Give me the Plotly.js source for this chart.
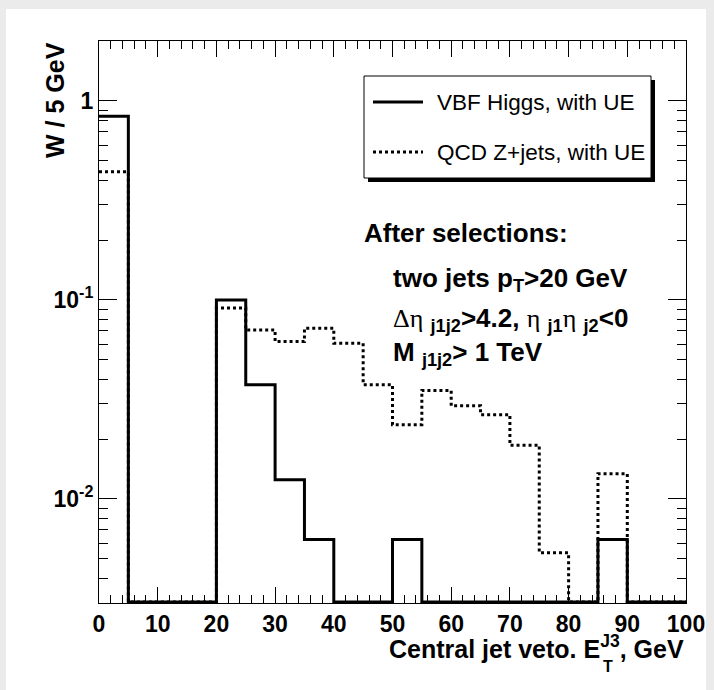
<!DOCTYPE html>
<html>
<head>
<meta charset="utf-8">
<script src="https://cdn.plot.ly/plotly-3.0.1.min.js"></script>
<style>
  html, body { margin:0; padding:0; background:#ebebeb; width:714px; height:690px; overflow:hidden; }
  #chart { position:absolute; left:6px; top:9px; width:700px; height:681px; background:#fff; }
</style>
</head>
<body>
<div id="chart"></div>
<script>
// ---- data ----
const binLowEdges = [0, 5, 10, 15, 20, 25, 30, 35, 40, 45, 50, 55, 60, 65, 70, 75, 80, 85, 90, 95];
const binUpperEnd = 100;
const higgsValues = [0.838, 0, 0, 0, 0.1, 0.0375, 0.0125, 0.00625, 0, 0, 0.00625, 0, 0, 0, 0, 0, 0, 0.00625, 0, 0];
const qcdValues   = [0.44, 0, 0, 0, 0.091, 0.0707, 0.0618, 0.0721, 0.0606, 0.0375, 0.0236, 0.0351, 0.0294, 0.0265, 0.0186, 0.00536, 0, 0.0134, 0, 0];
const seriesNames = ['VBF Higgs, with UE', 'QCD Z+jets, with UE'];
const xTickVals = [0, 10, 20, 30, 40, 50, 60, 70, 80, 90, 100];
const yTickVals = [0.01, 0.1, 1];
const yTickText = ['10<sup>-2</sup>', '10<sup>-1</sup>', '1'];
const xTitle = 'Central jet veto. E<sup>J3</sup>, GeV';
const yTitle = 'W / 5 GeV';
const greek = s => '<span style="font-family:\'Liberation Serif\';font-weight:normal">' + s + '</span>';
const selLines = [
  'After selections:',
  'two jets p<sub>T</sub>&gt;20 GeV',
  greek('\u0394\u03b7') + ' <sub>j1j2</sub>&gt;4.2, ' + greek('\u03b7') + ' <sub>j1</sub>' + greek('\u03b7') + ' <sub>j2</sub>&lt;0',
  'M <sub>j1j2</sub>&gt; 1 TeV'
];

// ---- geometry helpers ----
const yMin = 0.003, yMax = 2;
const floorVal = yMin * 1.012; // empty bins drawn along the frame bottom
const PX0 = 99, PX1 = 686, PY0 = 41, PY1 = 603;
const px = v => (v - PX0) / (PX1 - PX0);
const py = v => (PY1 - v) / (PY1 - PY0);

function stepTrace(vals, name, dash) {
  const xs = binLowEdges.concat([binUpperEnd]);
  const ys = vals.map(v => v > 0 ? v : floorVal);
  ys.push(ys[ys.length - 1]);
  return {
    type: 'scatter', mode: 'lines', name: name,
    x: xs, y: ys,
    line: { shape: 'hv', color: 'black', width: 3, dash: dash },
    hoverinfo: 'skip'
  };
}

const traces = [
  stepTrace(qcdValues, seriesNames[1], 'dot'),
  stepTrace(higgsValues, seriesNames[0], 'solid')
];

// minor log ticks
const minorVals = [];
for (let d = -3; d <= 0; d++) {
  for (let m = 2; m <= 9; m++) {
    const v = m * Math.pow(10, d);
    if (v >= yMin && v <= yMax) minorVals.push(v);
  }
}

const FONT = 'Liberation Sans, Arial, Helvetica, sans-serif';
const tickFont = { family: FONT, size: 23, color: 'black', weight: 'bold' };
const boldFont = sz => ({ family: FONT, size: sz, color: 'black', weight: 'bold' });

function note(text, x, y, xanchor, font, extra) {
  return Object.assign({ text: text, x: px(x), y: py(y), xref: 'paper', yref: 'paper',
    xanchor: xanchor, yanchor: 'middle', showarrow: false, font: font }, extra || {});
}

const annotations = [
  note(yTitle, 55, 100, 'center', boldFont(25), { textangle: -90 }),
  note(xTitle, 686, 647, 'right', boldFont(25)),
  note('T', 608, 666, 'center', boldFont(16)),
  note(seriesNames[0], 435, 102, 'left', { family: FONT, size: 22.5, color: 'black' }),
  note(seriesNames[1], 435, 152, 'left', { family: FONT, size: 22.5, color: 'black' }),
  note(selLines[0], 362, 233, 'left', boldFont(26)),
  note(selLines[1], 391, 279, 'left', boldFont(26)),
  note(selLines[2], 391, 319, 'left', boldFont(26)),
  note(selLines[3], 391, 353, 'left', boldFont(26))
];

const shapes = [
  { type: 'rect', xref: 'paper', yref: 'paper', x0: px(368), x1: px(655), y0: py(80), y1: py(182),
    fillcolor: 'black', line: { width: 0 } },
  { type: 'rect', xref: 'paper', yref: 'paper', x0: px(364), x1: px(651), y0: py(76), y1: py(178),
    fillcolor: 'white', line: { color: 'black', width: 1 } },
  { type: 'line', xref: 'paper', yref: 'paper', x0: px(373), x1: px(423), y0: py(102), y1: py(102),
    line: { color: 'black', width: 3 } },
  { type: 'line', xref: 'paper', yref: 'paper', x0: px(373), x1: px(423), y0: py(152), y1: py(152),
    line: { color: 'black', width: 3, dash: 'dot' } }
];

const layout = {
  width: 700, height: 681,
  margin: { l: PX0 - 6, r: 700 - (PX1 - 6), t: PY0 - 9, b: 681 - (PY1 - 9) },
  paper_bgcolor: 'white', plot_bgcolor: 'white',
  showlegend: false,
  font: { family: FONT, color: 'black' },
  xaxis: {
    range: [0, 100], tickmode: 'array', tickvals: xTickVals,
    ticks: 'inside', ticklen: 16, tickwidth: 1, tickcolor: 'black',
    showline: true, linecolor: 'black', linewidth: 1, mirror: 'ticks',
    showgrid: false, zeroline: false, tickfont: tickFont,
    minor: { ticks: 'inside', ticklen: 8, dtick: 2, tick0: 0, tickcolor: 'black', tickwidth: 1, showgrid: false }
  },
  yaxis: {
    type: 'log', range: [Math.log10(yMin), Math.log10(yMax)],
    tickmode: 'array', tickvals: yTickVals, ticktext: yTickText,
    ticks: 'inside', ticklen: 18, tickwidth: 1, tickcolor: 'black',
    showline: true, linecolor: 'black', linewidth: 1, mirror: 'ticks',
    showgrid: false, zeroline: false, tickfont: tickFont,
    minor: { ticks: 'inside', ticklen: 9, tickmode: 'array', tickvals: minorVals, tickcolor: 'black', tickwidth: 1, showgrid: false }
  },
  annotations: annotations,
  shapes: shapes
};

Plotly.newPlot('chart', traces, layout, { staticPlot: true, displayModeBar: false });
</script>
</body>
</html>
